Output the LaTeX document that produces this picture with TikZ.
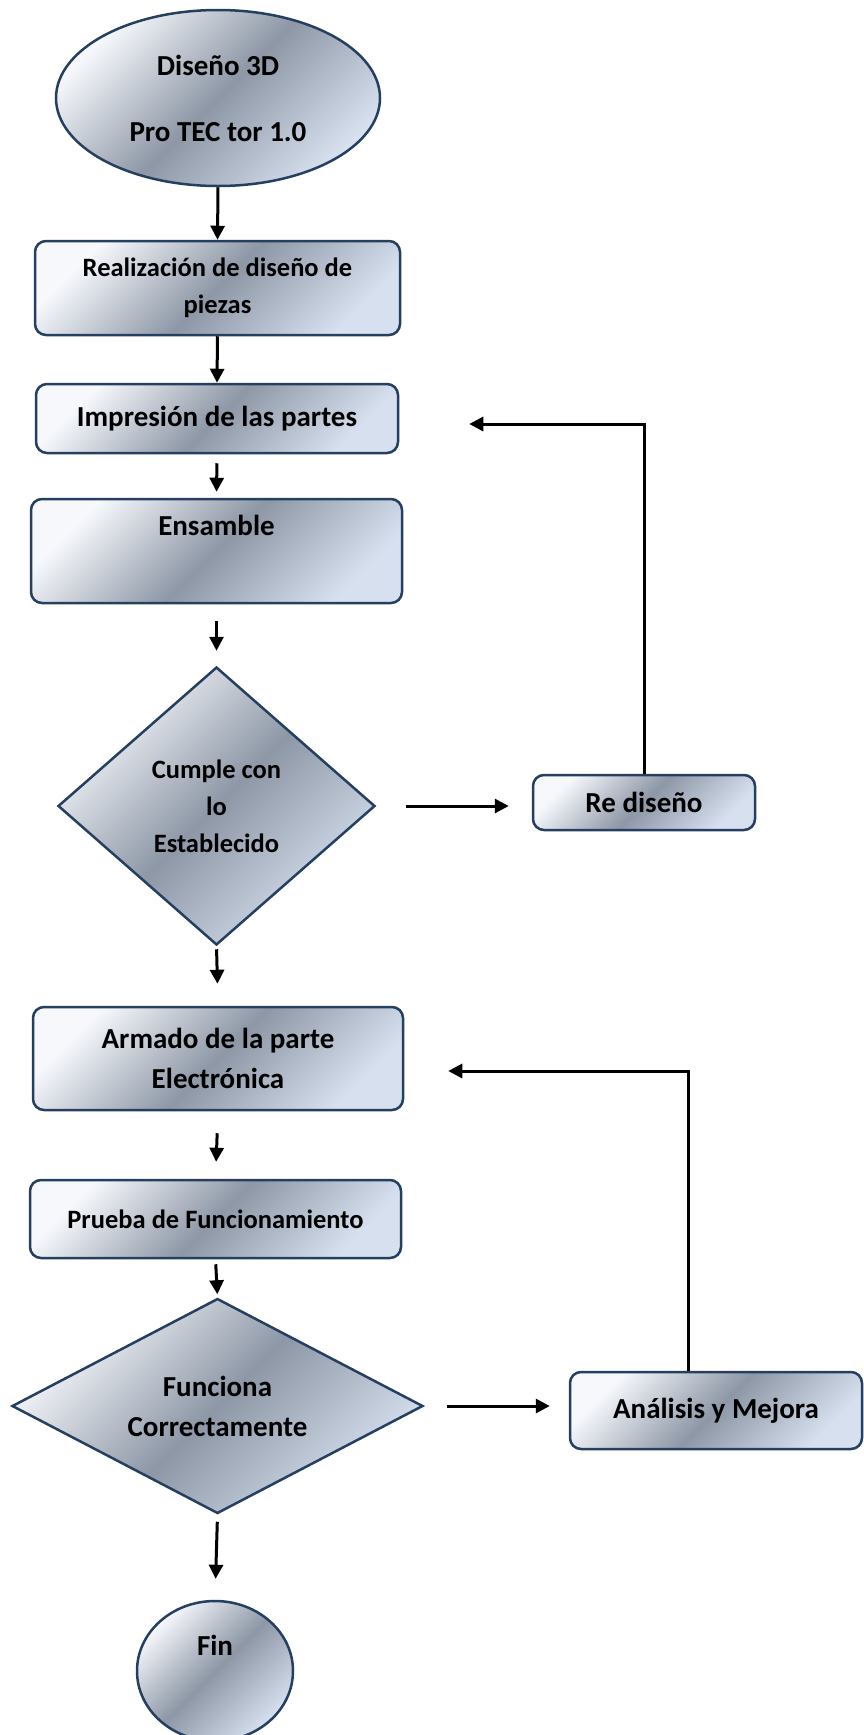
\documentclass[tikz,border=0pt]{standalone}
\usepackage{fontspec}
\setmainfont{Carlito}
\usetikzlibrary{shapes.geometric,arrows.meta}

\definecolor{borde}{RGB}{36,63,96}
\definecolor{claro}{RGB}{246,248,252}
\definecolor{oscuro}{RGB}{141,151,166}
\definecolor{celeste}{RGB}{214,224,238}

\begin{document}
\begin{tikzpicture}[x=1pt,y=-1pt,
    relleno/.style={draw=borde,line width=2.5pt,top color=claro,bottom color=celeste,middle color=oscuro,shading angle=45},
    caja/.style={relleno,rectangle,rounded corners=11pt,inner sep=0pt,align=center},
    rombo/.style={relleno,diamond,inner sep=0pt,align=center},
    elipse/.style={relleno,ellipse,inner sep=0pt,align=center},
    grande/.style={font=\fontsize{29}{40}\selectfont\bfseries},
    chica/.style={font=\fontsize{26.5}{37}\selectfont\bfseries},
    flecha/.style={line width=3pt,-{Triangle[length=14pt,width=14pt]}}]
      \useasboundingbox (0,0) rectangle (864,1735) ;
      % etapas del proceso
      \node[elipse,grande,minimum width=324pt,minimum height=176pt] (inicio) at (218,98) {Diseño 3D\\[26pt]Pro TEC tor 1.0} ;
      \node[caja,chica,minimum width=365pt,minimum height=94pt] (piezas) at (217.5,288) {Realización de diseño de\\piezas} ;
      \node[caja,grande,minimum width=362pt,minimum height=69pt] (impresion) at (217,418.5) {Impresión de las partes} ;
      \node[caja,grande,minimum width=371pt,minimum height=104pt] (ensamble) at (216.5,551) {Ensamble\\ \strut} ;
      \node[rombo,chica,minimum width=317pt,minimum height=278pt] (cumple) at (216.5,806) {Cumple con\\lo\\Establecido} ;
      \node[caja,grande,minimum width=222pt,minimum height=55pt] (rediseno) at (644,802.5) {Re diseño} ;
      \node[caja,grande,minimum width=370pt,minimum height=103pt] (armado) at (218,1058.5) {Armado de la parte\\Electrónica} ;
      \node[caja,chica,minimum width=371pt,minimum height=78pt] (prueba) at (215.5,1219) {Prueba de Funcionamiento} ;
      \node[rombo,grande,aspect=1.9,minimum width=411pt,minimum height=215pt] (funciona) at (217.5,1406) {Funciona\\Correctamente} ;
      \node[caja,grande,minimum width=292pt,minimum height=77pt] (analisis) at (716,1410.5) {Análisis y Mejora} ;
      \node[elipse,grande,minimum width=156pt,minimum height=140pt] (fin) at (215,1671) {Fin\\ \strut} ;
      % flechas
      \draw[flecha] (inicio.south) -- (piezas.north) ;
      \draw[flecha] (piezas.south) -- (impresion.north) ;
      \draw[flecha,shorten <=9pt,shorten >=6pt] (impresion.south) -- (ensamble.north) ;
      \draw[flecha,shorten <=17pt,shorten >=15pt] (ensamble.south) -- (cumple.north) ;
      \draw[flecha,shorten <=30pt,shorten >=23pt] (cumple.east) -- (cumple.east -| rediseno.west) ;
      \draw[flecha] (rediseno.north) |- ([xshift=70pt,yshift=-5.5pt]impresion.east) ;
      \draw[flecha,shorten <=3pt,shorten >=22pt] (cumple.south) -- (armado.north) ;
      \draw[flecha,shorten <=22pt,shorten >=17pt] (armado.south) -- (prueba.north) ;
      \draw[flecha,shorten <=5pt,shorten >=3pt] (prueba.south) -- (funciona.north) ;
      \draw[flecha,shorten <=23pt,shorten >=19pt] (funciona.east) -- (analisis.west |- funciona.east) ;
      \draw[flecha] ([xshift=-28pt]analisis.north) |- ([xshift=44pt,yshift=-12.5pt]armado.east) ;
      \draw[flecha,shorten <=7pt,shorten >=21pt] (funciona.south) -- (fin.north) ;
\end{tikzpicture}
\end{document}
